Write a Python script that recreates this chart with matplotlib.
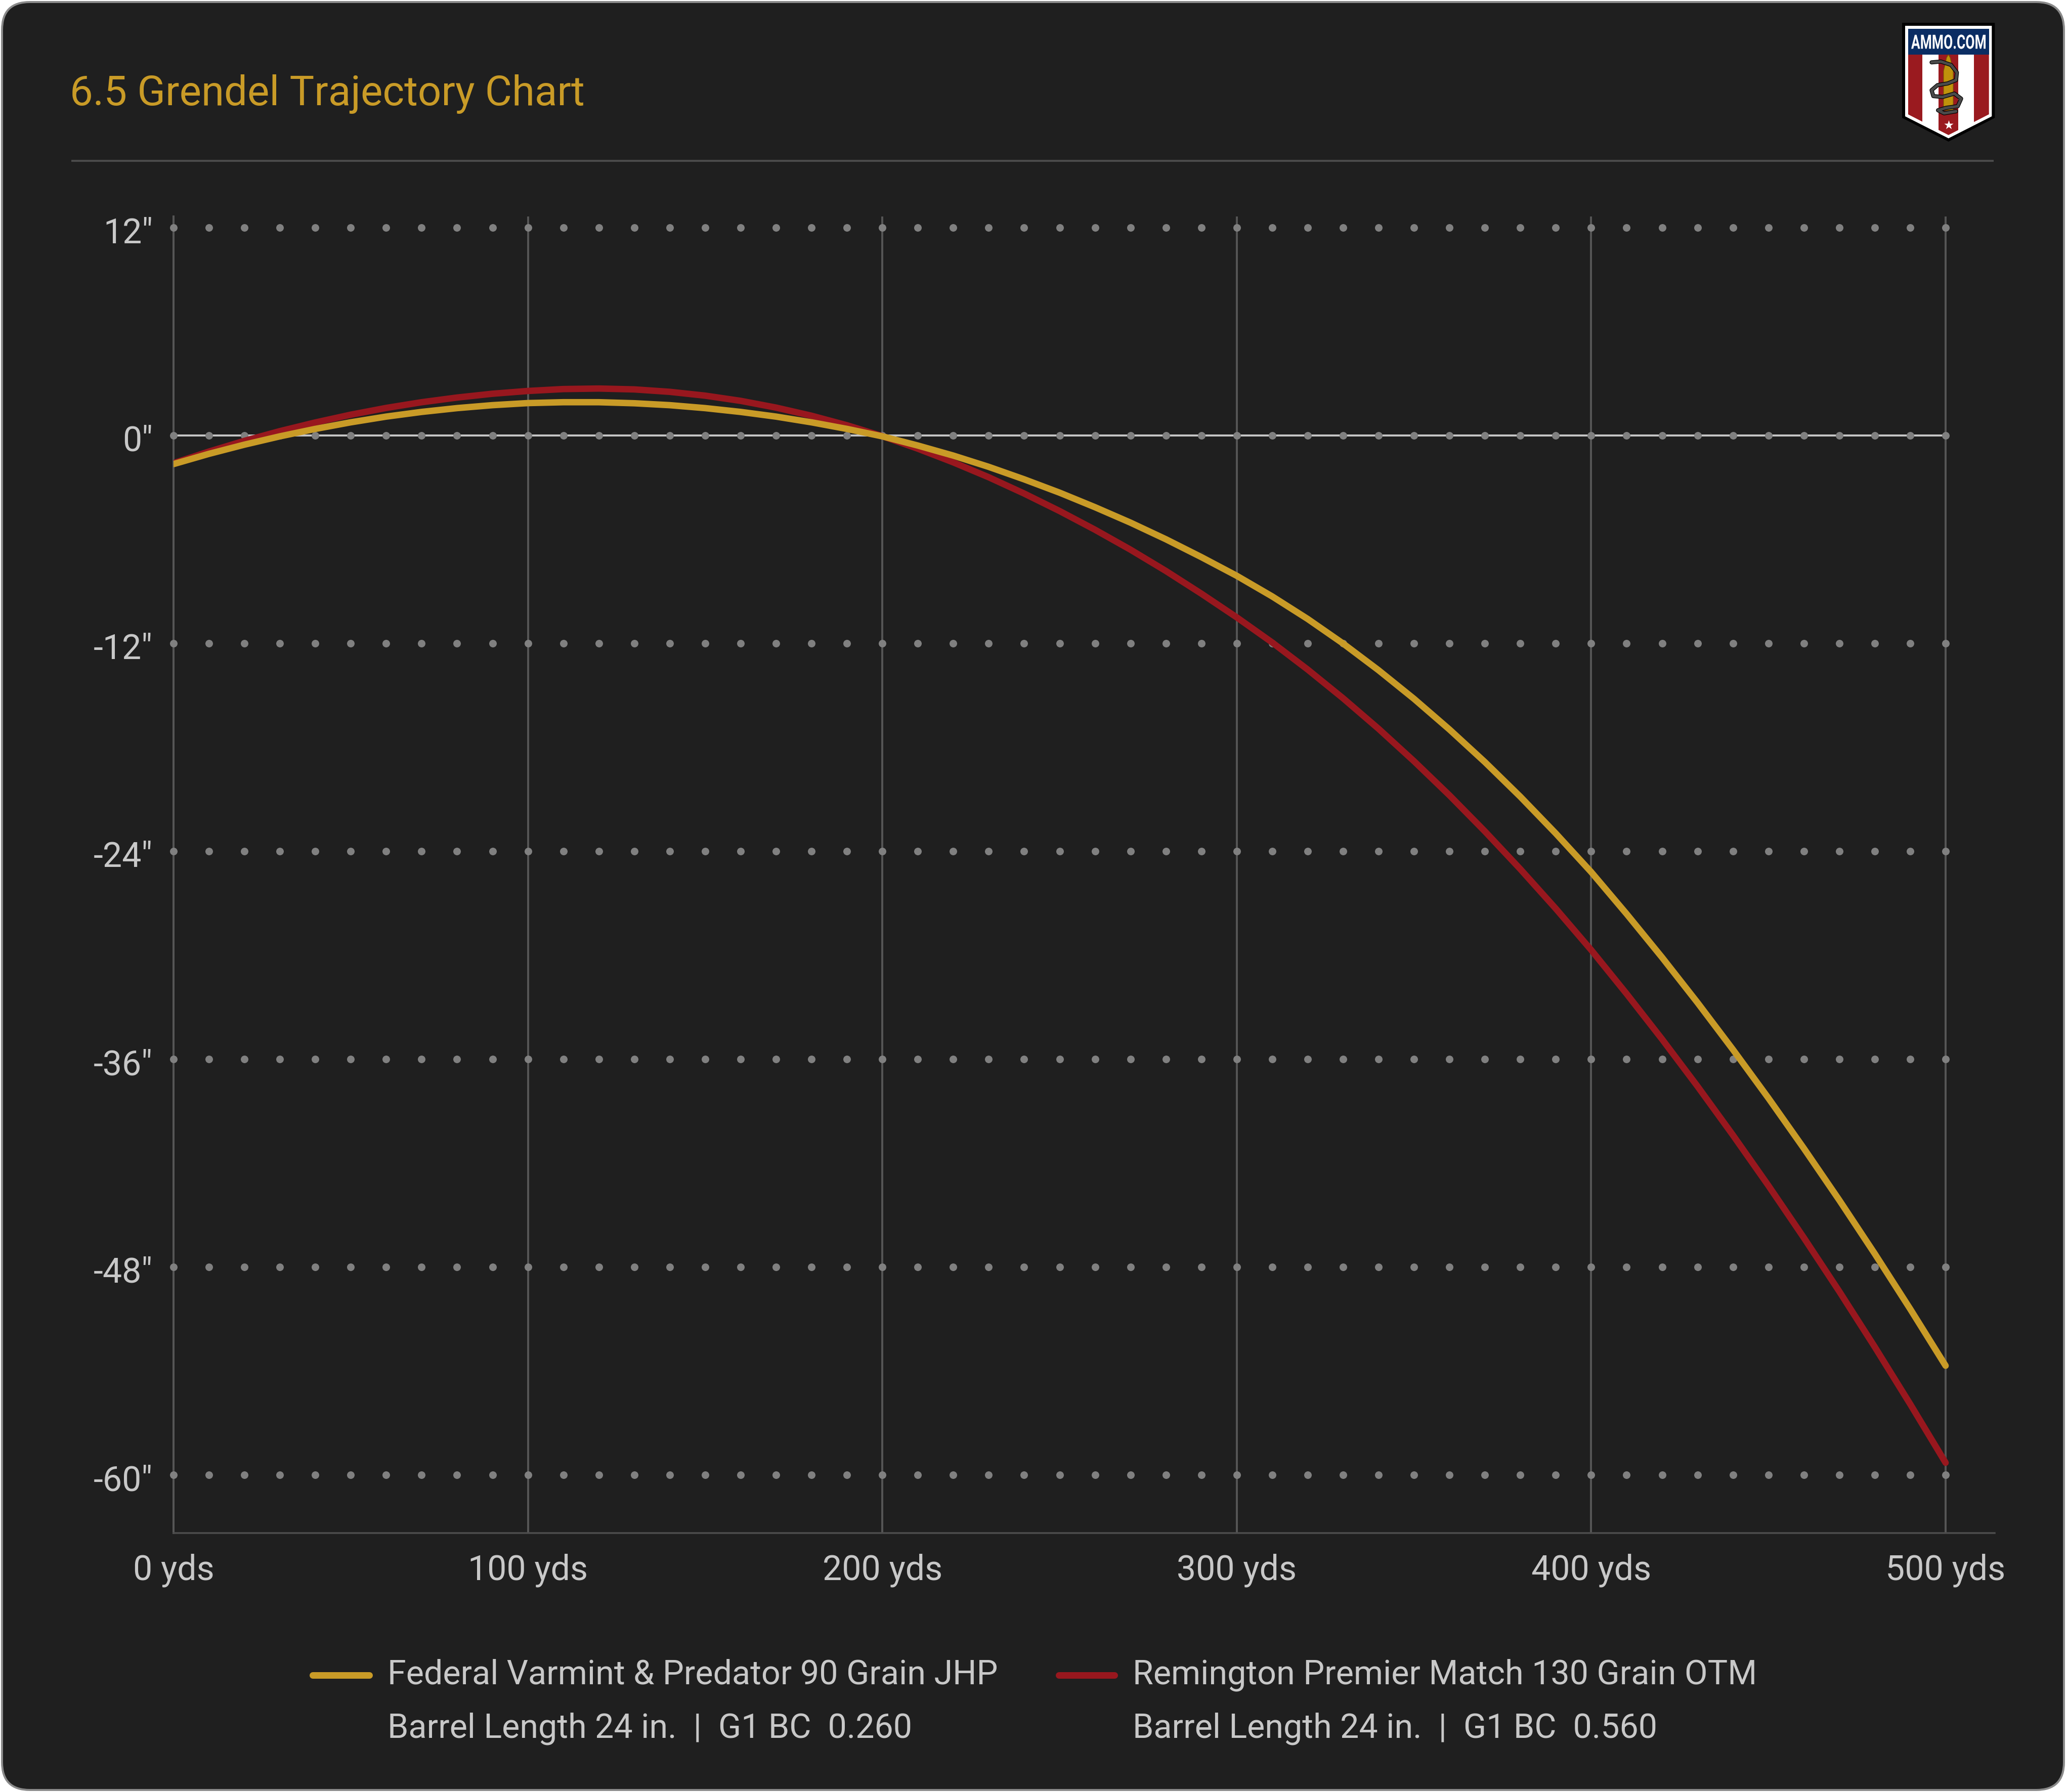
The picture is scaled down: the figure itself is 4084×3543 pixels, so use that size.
import numpy as np
import matplotlib
matplotlib.use("Agg")
import matplotlib.pyplot as plt
from matplotlib.patches import FancyBboxPatch, Polygon, PathPatch
from matplotlib.textpath import TextPath
from matplotlib.font_manager import FontProperties
from matplotlib.transforms import Affine2D, ScaledTranslation

plt.rcParams['font.family'] = ['Roboto', 'DejaVu Sans']

# ---------------- data ----------------
title = "6.5 Grendel Trajectory Chart"
distance_yds = list(range(0, 501, 10))
federal_drop = [-1.65, -1.06, -0.53, -0.05, 0.38, 0.76, 1.09, 1.36, 1.58, 1.75, 1.87,
                1.92, 1.92, 1.86, 1.75, 1.58, 1.36, 1.09, 0.76, 0.38, -0.05,
                -0.58, -1.16, -1.81, -2.53, -3.30, -4.14, -5.03, -5.99, -7.02, -8.10,
                -9.29, -10.59, -12.01, -13.55, -15.20, -16.97, -18.85, -20.85, -22.97, -25.20,
                -27.62, -30.13, -32.74, -35.45, -38.25, -41.15, -44.14, -47.23, -50.42, -53.70]
remington_drop = [-1.60, -0.93, -0.31, 0.25, 0.75, 1.20, 1.59, 1.92, 2.19, 2.41, 2.57,
                  2.68, 2.71, 2.66, 2.52, 2.30, 2.00, 1.61, 1.14, 0.59, -0.04,
                  -0.76, -1.55, -2.41, -3.35, -4.36, -5.44, -6.59, -7.82, -9.13, -10.50,
                  -11.95, -13.51, -15.17, -16.93, -18.80, -20.77, -22.85, -25.03, -27.31, -29.70,
                  -32.23, -34.85, -37.57, -40.39, -43.30, -46.31, -49.41, -52.61, -55.91, -59.30]
series_names = ["Federal Varmint & Predator 90 Grain JHP",
                "Remington Premier Match 130 Grain OTM"]
series_details = ["Barrel Length 24 in.  |  G1 BC  0.260",
                  "Barrel Length 24 in.  |  G1 BC  0.560"]
x_ticks = [0, 100, 200, 300, 400, 500]
x_tick_labels = ["0 yds", "100 yds", "200 yds", "300 yds", "400 yds", "500 yds"]
y_ticks = [12, 0, -12, -24, -36, -48, -60]
y_tick_labels = ['12"', '0"', '-12"', '-24"', '-36"', '-48"', '-60"']
dot_step_yds = 10

# ---------------- style ----------------
W, H = 4084, 3543
DPI = 100
PT = 72.0 / DPI  # points per pixel
GOLD = '#C99B27'
RED = '#98171E'
CARD = '#1f1f1f'
TXT = '#c8c8c8'

fig = plt.figure(figsize=(W / DPI, H / DPI), dpi=DPI, facecolor='white')

# background / decoration layer in pixel coordinates
bg = fig.add_axes([0, 0, 1, 1], zorder=0)
bg.set_xlim(0, W)
bg.set_ylim(H, 0)
bg.axis('off')

card = FancyBboxPatch((4, 4), W - 8, H - 8, boxstyle="round,pad=0,rounding_size=55",
                      fc=CARD, ec='#8a8a8a', lw=4 * PT)
bg.add_patch(card)

# title + separator
bg.text(138, 208, title, fontsize=58.8, color=GOLD, ha='left', va='baseline')
bg.plot([141, 3941], [318, 318], color='#4a4a4a', lw=4 * PT, solid_capstyle='butt')

# ---------------- logo ----------------
outer = [(3760, 45), (3943.3, 45), (3943.3, 233), (3851.7, 280), (3760, 233)]
white = [(3766, 51), (3937.3, 51), (3937.3, 230), (3851.7, 273.5), (3766, 230)]
inner = [(3771.7, 57), (3931.7, 57), (3931.7, 226), (3851.7, 267), (3771.7, 226)]
bg.add_patch(Polygon(outer, closed=True, fc='black', ec='none'))
bg.add_patch(Polygon(white, closed=True, fc='white', ec='none'))
clip = Polygon(inner, closed=True, fc='none', ec='none')
bg.add_patch(clip)
stripe_edges = [3771.7, 3800, 3832.3, 3870.7, 3902.3, 3931.7]
for i in range(5):
    col = '#9a1a1f' if i % 2 == 0 else 'white'
    p = Polygon([(stripe_edges[i], 107), (stripe_edges[i + 1], 107),
                 (stripe_edges[i + 1], 280), (stripe_edges[i], 280)],
                closed=True, fc=col, ec='none')
    bg.add_patch(p)
    p.set_clip_path(clip)
blue = Polygon([(3771.7, 57), (3931.7, 57), (3931.7, 108), (3771.7, 108)],
               closed=True, fc='#0b2d63', ec='none')
bg.add_patch(blue)
fp = FontProperties(family='Roboto', weight='bold')
tp = TextPath((0, 0), "AMMO.COM", size=100, prop=fp)
ext = tp.get_extents()
sx = 147.0 / ext.width
sy = 28.3 / ext.height
tr = Affine2D().translate(-ext.xmin, -ext.ymin).scale(sx, -sy).translate(3778, 96.7) + bg.transData
bg.add_patch(PathPatch(tp, transform=tr, fc='white', ec='none'))
# bullet
bg.add_patch(Polygon([(3842, 218), (3842, 140), (3845, 128), (3848, 114), (3851.5, 108),
                      (3855, 114), (3858, 128), (3861, 140), (3861, 218)],
                     closed=True, fc='#C0920C', ec='#7a5c00', lw=0.8))
# snake
snake = np.array([(3818.3, 123.3), (3836.7, 121.7), (3856.7, 128.3), (3868.3, 143.3),
                  (3866.7, 158.3), (3850, 165), (3830, 168.3), (3818.3, 178.3),
                  (3821.7, 190), (3840, 191.7), (3863.3, 185), (3876.7, 195),
                  (3870, 210), (3846.7, 213.3), (3831, 218), (3843, 224), (3866.7, 220)])
bg.plot(snake[:, 0], snake[:, 1], color='black', lw=8 * PT, solid_joinstyle='round',
        solid_capstyle='round')
bg.plot(snake[:, 0], snake[:, 1], color='#4a4a4a', lw=5.5 * PT, solid_joinstyle='round',
        solid_capstyle='round')
bg.scatter([3851.7], [247], marker='*', s=190, color='white', linewidths=0, zorder=5)

# ---------------- legend ----------------
leg_specs = [(611, 736, 766, GOLD), (2086, 2209, 2239, RED)]
for (x0, x1, xt, col), name, det in zip(leg_specs, series_names, series_details):
    bg.plot([x0 + 6.5, x1 - 6.5], [3312, 3312], color=col, lw=13 * PT, solid_capstyle='round')
    bg.text(xt, 3329, name, fontsize=47.8, color=TXT, ha='left', va='baseline')
    bg.text(xt, 3435, det, fontsize=47.8, color=TXT, ha='left', va='baseline')

# ---------------- main chart ----------------
ax_left, ax_right, ax_top, ax_bottom = 343, 3943, 428, 3031
ax = fig.add_axes([ax_left / W, 1 - ax_bottom / H, (ax_right - ax_left) / W,
                   (ax_bottom - ax_top) / H], zorder=1)
ax.set_facecolor('none')
px_per_yd = (3846 - 343) / 500.0
px_per_in = 34.25
zero_px = 861
ax.set_xlim(0, (ax_right - ax_left) / px_per_yd)
ax.set_ylim((zero_px - ax_bottom) / px_per_in, (zero_px - ax_top) / px_per_in)

for s in ['top', 'right']:
    ax.spines[s].set_visible(False)
ax.spines['left'].set_color('#555555')
ax.spines['left'].set_linewidth(4 * PT)
ax.spines['bottom'].set_color('#4d4d4d')
ax.spines['bottom'].set_linewidth(3.5 * PT)

for xv in x_ticks[1:]:
    ax.axvline(xv, color='#555555', lw=4 * PT, zorder=1)

ax.hlines(0, x_ticks[0], x_ticks[-1], color='#c4c4c4', lw=4 * PT, zorder=2)

dot_x = np.arange(x_ticks[0], x_ticks[-1] + 1, dot_step_yds)
for yv in y_ticks:
    ax.scatter(dot_x, np.full(dot_x.shape, yv), s=(15 * PT) ** 2, color='#808080',
               linewidths=0, zorder=3, clip_on=False)

ax.plot(distance_yds, remington_drop, color=RED, lw=12.7 * PT, solid_capstyle='round',
        solid_joinstyle='round', zorder=5)
ax.plot(distance_yds, federal_drop, color=GOLD, lw=12.7 * PT, solid_capstyle='round',
        solid_joinstyle='round', zorder=6)

ax.set_xticks(x_ticks, x_tick_labels)
ax.set_yticks(y_ticks, y_tick_labels)
ax.tick_params(axis='x', length=0, pad=29.5, labelsize=49, labelcolor=TXT)
ax.tick_params(axis='y', length=0, pad=29.5, labelsize=49, labelcolor=TXT)
shift = ScaledTranslation(0, -5 / DPI, fig.dpi_scale_trans)
for lab in ax.get_yticklabels():
    lab.set_transform(lab.get_transform() + shift)

fig.savefig('out.png', dpi=DPI, facecolor='white')
